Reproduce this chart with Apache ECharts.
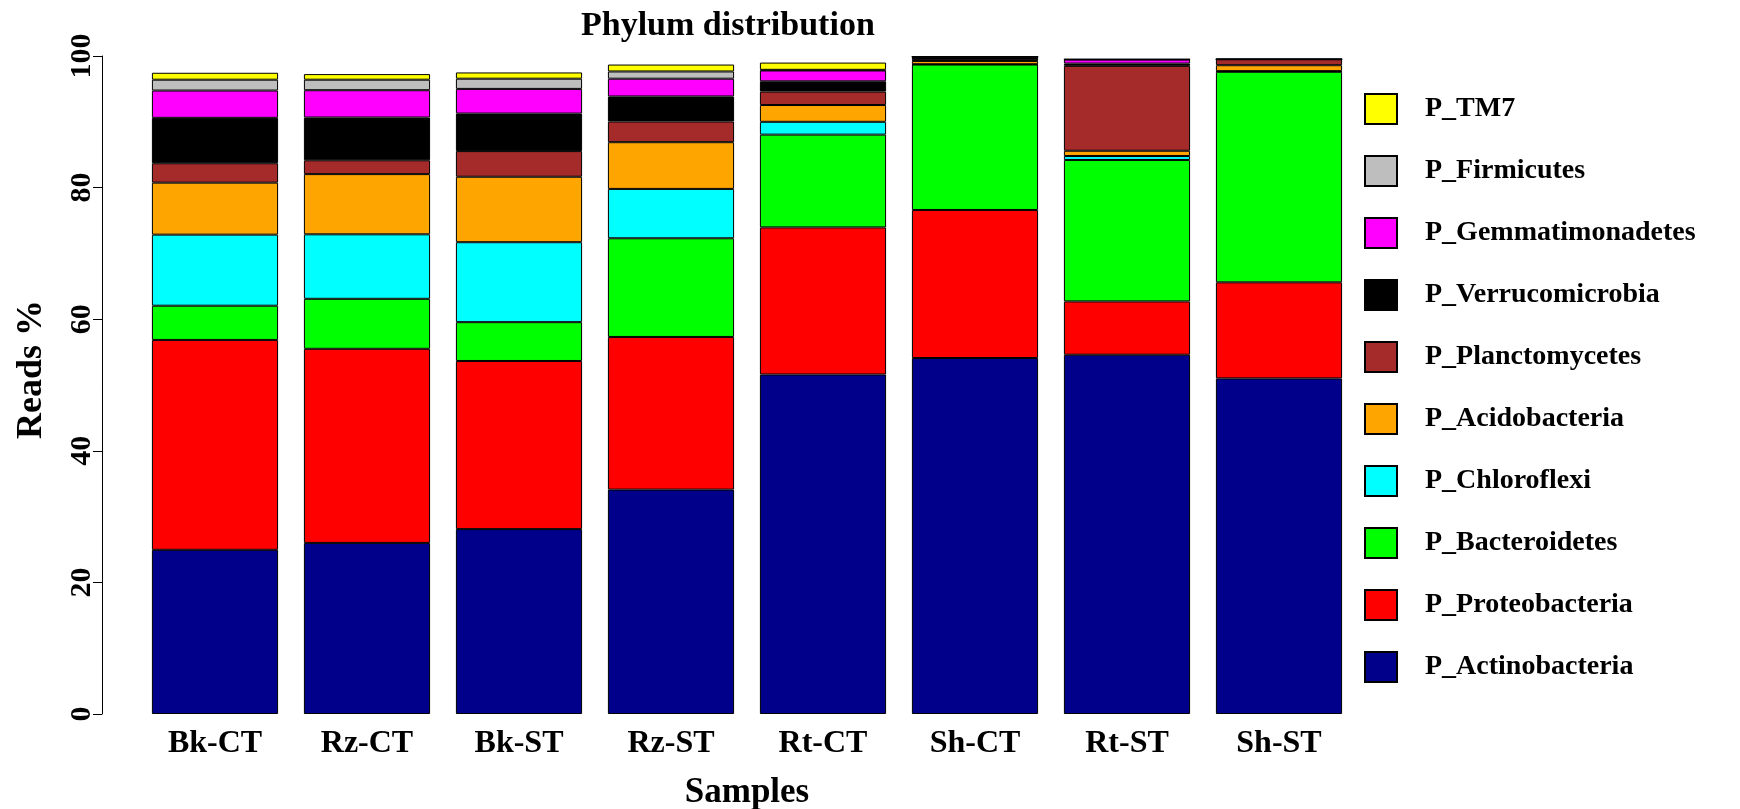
<!DOCTYPE html>
<html>
<head>
<meta charset="utf-8">
<title>Phylum distribution</title>
<script src="https://cdn.jsdelivr.net/npm/echarts@6/dist/echarts.min.js"></script>
<style>
  html, body { margin: 0; padding: 0; background: #fff; }
  #chart { width: 1740px; height: 809px; }
</style>
</head>
<body>
<div id="chart"></div>
<script>
// Sample groups along the x axis
const samples = ['Bk-CT', 'Rz-CT', 'Bk-ST', 'Rz-ST', 'Rt-CT', 'Sh-CT', 'Rt-ST', 'Sh-ST'];

// Relative abundance (Reads %) per phylum, one value per sample
const actinobacteria   = [24.95, 26.0, 28.1, 34.1, 51.6, 54.1, 54.6, 51.0];
const proteobacteria   = [31.9, 29.5, 25.55, 23.2, 22.35, 22.5, 8.1, 14.6];
const bacteroidetes    = [5.2, 7.6, 5.9, 15.0, 14.1, 22.1, 21.5, 32.0];
const chloroflexi      = [10.8, 9.8, 12.15, 7.5, 1.95, 0.05, 0.6, 0.1];
const acidobacteria    = [7.9, 9.15, 9.95, 7.1, 2.55, 0.5, 0.8, 0.9];
const planctomycetes   = [2.95, 2.1, 3.9, 3.15, 2.05, 0.1, 12.9, 0.9];
const verrucomicrobia  = [6.9, 6.5, 5.7, 3.8, 1.55, 0.55, 0.35, 0];
const gemmatimonadetes = [4.15, 4.15, 3.75, 2.7, 1.65, 0, 0.6, 0];
const firmicutes       = [1.65, 1.6, 1.55, 1.1, 0.1, 0, 0.05, 0];
const tm7              = [1.05, 0.85, 0.95, 1.05, 1.1, 0, 0, 0];

// Y axis tick values
const yTicks = [0, 20, 40, 60, 80, 100];

// Stacking order, bottom to top
const phyla = [
  { name: 'P_Actinobacteria',   data: actinobacteria,   color: '#00008B' },
  { name: 'P_Proteobacteria',   data: proteobacteria,   color: '#FF0000' },
  { name: 'P_Bacteroidetes',    data: bacteroidetes,    color: '#00FF00' },
  { name: 'P_Chloroflexi',      data: chloroflexi,      color: '#00FFFF' },
  { name: 'P_Acidobacteria',    data: acidobacteria,    color: '#FFA500' },
  { name: 'P_Planctomycetes',   data: planctomycetes,   color: '#A52A2A' },
  { name: 'P_Verrucomicrobia',  data: verrucomicrobia,  color: '#000000' },
  { name: 'P_Gemmatimonadetes', data: gemmatimonadetes, color: '#FF00FF' },
  { name: 'P_Firmicutes',       data: firmicutes,       color: '#BEBEBE' },
  { name: 'P_TM7',              data: tm7,              color: '#FFFF00' }
];

const FONT = "'Liberation Serif', 'DejaVu Serif', serif";

const chart = echarts.init(document.getElementById('chart'), null, { renderer: 'canvas' });

chart.setOption({
  backgroundColor: '#ffffff',
  animation: false,
  title: {
    text: 'Phylum distribution',
    left: 576,
    top: 4,
    textStyle: { fontFamily: FONT, fontWeight: 'bold', fontSize: 34, color: '#000' }
  },
  // Y axis title, drawn as free text so it sits slightly above the plot centre
  graphic: [{
    type: 'text',
    left: 14,
    top: 300,
    rotation: Math.PI / 2,
    style: {
      text: 'Reads %',
      font: "bold 36px 'Liberation Serif', serif",
      fill: '#000'
    }
  }],
  legend: {
    orient: 'vertical',
    left: 1364,
    top: 93,
    padding: 0,
    icon: 'rect',
    itemWidth: 32,
    itemHeight: 30,
    itemGap: 30,
    selectedMode: false,
    data: phyla.map(p => p.name).reverse(),
    textStyle: {
      fontFamily: FONT, fontWeight: 'bold', fontSize: 28, color: '#000',
      lineHeight: 30, padding: [0, 0, 0, 23]
    }
  },
  grid: { left: 139, top: 56, width: 1216, height: 658, outerBoundsMode: 'none' },
  xAxis: {
    type: 'category',
    data: samples,
    axisLine: { show: false },
    axisTick: { show: false },
    axisLabel: {
      margin: 14, fontFamily: FONT, fontWeight: 'bold', fontSize: 32, color: '#000'
    },
    name: 'Samples',
    nameLocation: 'middle',
    nameGap: 61,
    nameTextStyle: { fontFamily: FONT, fontWeight: 'bold', fontSize: 35, color: '#000' }
  },
  yAxis: {
    type: 'value',
    min: yTicks[0],
    max: yTicks[yTicks.length - 1],
    interval: 20,
    offset: 37,
    splitLine: { show: false },
    axisLine: { show: true, lineStyle: { color: '#000', width: 1 } },
    axisTick: { show: true, length: 9, lineStyle: { color: '#000', width: 1 } },
    axisLabel: {
      rotate: 90, margin: 5,
      fontFamily: FONT, fontWeight: 'bold', fontSize: 30, color: '#000'
    }
  },
  series: phyla.map(p => ({
    name: p.name,
    type: 'bar',
    stack: 'reads',
    data: p.data,
    barCategoryGap: '17%',
    itemStyle: { color: p.color, borderColor: '#000', borderWidth: 1 }
  }))
});
</script>
</body>
</html>
